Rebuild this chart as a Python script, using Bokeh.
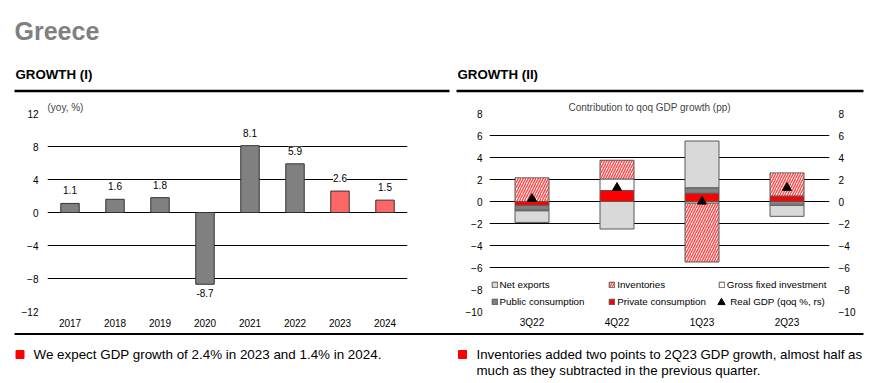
from bokeh.plotting import figure
from bokeh.models import (FactorRange, Range1d, FixedTicker, LinearAxis, ColumnDataSource,
                          LabelSet, Legend, LegendItem)
from bokeh.layouts import column, row
from bokeh.embed import file_html
from bokeh.resources import INLINE
from bokeh.core.properties import value

FONT = "Liberation Sans"

# ---------------- data ----------------
years = ["2017", "2018", "2019", "2020", "2021", "2022", "2023", "2024"]
gdp_growth = [1.1, 1.6, 1.8, -8.7, 8.1, 5.9, 2.6, 1.5]
is_forecast = [False, False, False, False, False, False, True, True]
left_ticks = [-12, -8, -4, 0, 4, 8, 12]

quarters = ["3Q22", "4Q22", "1Q23", "2Q23"]
private_consumption = [-0.35, 1.0, 0.75, 0.5]
public_consumption = [-0.45, 0.0, 0.5, -0.35]
gross_fixed_investment = [-0.05, 1.05, -0.15, 0.0]
inventories = [2.15, 1.7, -5.35, 2.1]
net_exports = [-1.05, -2.5, 4.25, -1.0]
real_gdp_qoq = [0.25, 1.25, 0.0, 1.25]
right_ticks = [-10, -8, -6, -4, -2, 0, 2, 4, 6, 8]
right_grid = [-10, -6, -4, -2, 0, 2, 4, 6, 8]

title_main = "Greece"
title_left = "GROWTH (I)"
title_right = "GROWTH (II)"
note_left = "We expect GDP growth of 2.4% in 2023 and 1.4% in 2024."
note_right = ["Inventories added two points to 2Q23 GDP growth, almost half as",
              "much as they subtracted in the previous quarter."]

W = 880
HEAD_H = 93
CH_H = 238
FOOT_H = 49
LW = 456
RW = W - LW


def blank(width, height):
    p = figure(width=width, height=height, x_range=Range1d(0, width), y_range=Range1d(height, 0),
               output_backend="svg", toolbar_location=None, min_border=0,
               x_axis_location=None, y_axis_location=None, outline_line_color=None)
    p.grid.visible = False
    return p


def style_axis(ax, standoff):
    ax.axis_line_color = None
    ax.major_tick_line_color = None
    ax.minor_tick_line_color = None
    ax.major_tick_in = 0
    ax.major_tick_out = 0
    ax.major_label_standoff = standoff
    ax.major_label_text_font = FONT
    ax.major_label_text_font_size = "10px"
    ax.major_label_text_color = "black"


# ---------------- header ----------------
header = blank(W, HEAD_H)
header.text(x=[14], y=[30], text=[title_main], text_font=value(FONT), text_font_size="25px",
            text_font_style="bold", text_color="#808080", text_baseline="middle")
header.text(x=[15, 457], y=[74, 74], text=[title_left, title_right],
            text_font=value(FONT), text_font_size="13.3px", text_font_style="bold",
            text_color="black", text_baseline="middle")
header.quad(left=[14, 456], right=[449, 863], top=[89.3, 89.3], bottom=[91.8, 91.8],
            color="black", line_width=0)

# ---------------- left chart ----------------
left = figure(width=LW, height=CH_H, x_range=FactorRange(*years), y_range=Range1d(-12, 12),
              output_backend="svg", toolbar_location=None, title="(yoy, %)",
              min_border_left=47, min_border_right=LW - 47 - 360, min_border_top=20,
              min_border_bottom=CH_H - 20 - 198, outline_line_color=None)
left.title.text_font = FONT
left.title.text_font_size = "10px"
left.title.text_font_style = "normal"
left.title.align = "left"
left.title.offset = 0
left.title.standoff = 2
left.yaxis.ticker = FixedTicker(ticks=left_ticks)
style_axis(left.yaxis[0], 9)
style_axis(left.xaxis[0], 7)
left.xgrid.visible = False
left.ygrid.ticker = FixedTicker(ticks=left_ticks)
left.ygrid.grid_line_color = "black"
left.ygrid.grid_line_width = 1

lsrc = ColumnDataSource(dict(
    year=years, val=gdp_growth,
    color=["#FF6666" if f else "#808080" for f in is_forecast],
    label=[f"{v:.1f}" for v in gdp_growth],
    off=[13 if v >= 0 else -8.5 for v in gdp_growth],
))
left.vbar(x="year", top="val", bottom=0, width=0.41, fill_color="color",
          line_color="#333333", line_width=1, source=lsrc)
left.add_layout(LabelSet(x="year", y="val", text="label", y_offset="off", source=lsrc,
                         text_align="center", text_baseline="middle",
                         text_font=value(FONT), text_font_size="10px", text_color="black",
                         background_fill_color="white"))

# ---------------- right chart ----------------
right = figure(width=RW, height=CH_H, x_range=FactorRange(*quarters), y_range=Range1d(-10, 8),
               output_backend="svg", toolbar_location=None,
               title="Contribution to qoq GDP growth (pp)",
               min_border_left=33, min_border_right=RW - 33 - 340, min_border_top=20,
               min_border_bottom=CH_H - 20 - 200, outline_line_color=None)
right.title.text_font = FONT
right.title.text_font_size = "10px"
right.title.text_font_style = "normal"
right.title.align = "left"
right.title.offset = 79
right.title.standoff = 2
right.yaxis.ticker = FixedTicker(ticks=right_ticks)
style_axis(right.yaxis[0], 7)
style_axis(right.xaxis[0], 5)
rax = LinearAxis(ticker=FixedTicker(ticks=right_ticks))
style_axis(rax, 9)
right.add_layout(rax, "right")
right.xgrid.visible = False
right.ygrid.ticker = FixedTicker(ticks=right_grid)
right.ygrid.grid_line_color = "black"
right.ygrid.grid_line_width = 1

OUT = "#595959"
series = [
    ("Private consumption", private_consumption, dict(fill_color="#FF0000")),
    ("Public consumption", public_consumption, dict(fill_color="#808080")),
    ("Gross fixed investment", gross_fixed_investment, dict(fill_color="white")),
    ("Inventories", inventories, dict(fill_color="white", hatch_pattern="right_diagonal_line",
                                      hatch_color="#FF4D4D", hatch_scale=5, hatch_weight=1.5)),
    ("Net exports", net_exports, dict(fill_color="#D9D9D9")),
]
pos = [0.0] * len(quarters)
neg = [0.0] * len(quarters)
rend = {}
for name, vals, style in series:
    bottoms, tops = [], []
    for i, v in enumerate(vals):
        if v >= 0:
            bottoms.append(pos[i]); tops.append(pos[i] + v); pos[i] += v
        else:
            tops.append(neg[i]); bottoms.append(neg[i] + v); neg[i] += v
    src = ColumnDataSource(dict(q=quarters, bottom=bottoms, top=tops))
    rend[name] = right.vbar(x="q", bottom="bottom", top="top", width=0.4, source=src,
                            line_color=OUT, line_width=1, **style)

rend["Real GDP"] = right.scatter(x=quarters, y=real_gdp_qoq, marker="triangle", size=9,
                                 color="black")


def add_legend(names, x, y, gsize=7, standoff=2, label_text=None):
    items = [LegendItem(label=value(label_text or n), renderers=[rend[n]]) for n in names]
    lg = Legend(items=items, location=(x, y), orientation="vertical",
                border_line_color=None, background_fill_alpha=0, padding=0, margin=0,
                spacing=5, glyph_width=gsize, glyph_height=gsize, label_height=12,
                label_standoff=standoff, label_text_font=FONT, label_text_font_size="9.8px",
                label_text_color="black")
    right.add_layout(lg, "center")


add_legend(["Net exports", "Public consumption"], 1.5, 3.5)
add_legend(["Inventories", "Private consumption"], 119.2, 3.5)
add_legend(["Gross fixed investment"], 228.8, 20.8)
add_legend(["Real GDP"], 223.3, 0.5, gsize=18, standoff=-3, label_text="Real GDP (qoq %, rs)")

# ---------------- footer ----------------
footer = blank(W, FOOT_H)
footer.quad(left=[14], right=[863], top=[1.5], bottom=[3.5], color="black", line_width=0)
footer.rect(x=[19.5, 462], y=[23, 23], width=8, height=8, color="#FF0000")
footer.text(x=[33], y=[23], text=[note_left], text_font=value(FONT), text_font_size="13.4px",
            text_color="black", text_baseline="middle")
footer.text(x=[476, 476], y=[23, 39], text=note_right, text_font=value(FONT),
            text_font_size="13.3px", text_color="black", text_baseline="middle")

layout = column(header, row(left, right), footer)
open("out.html", "w").write(file_html(layout, INLINE))
